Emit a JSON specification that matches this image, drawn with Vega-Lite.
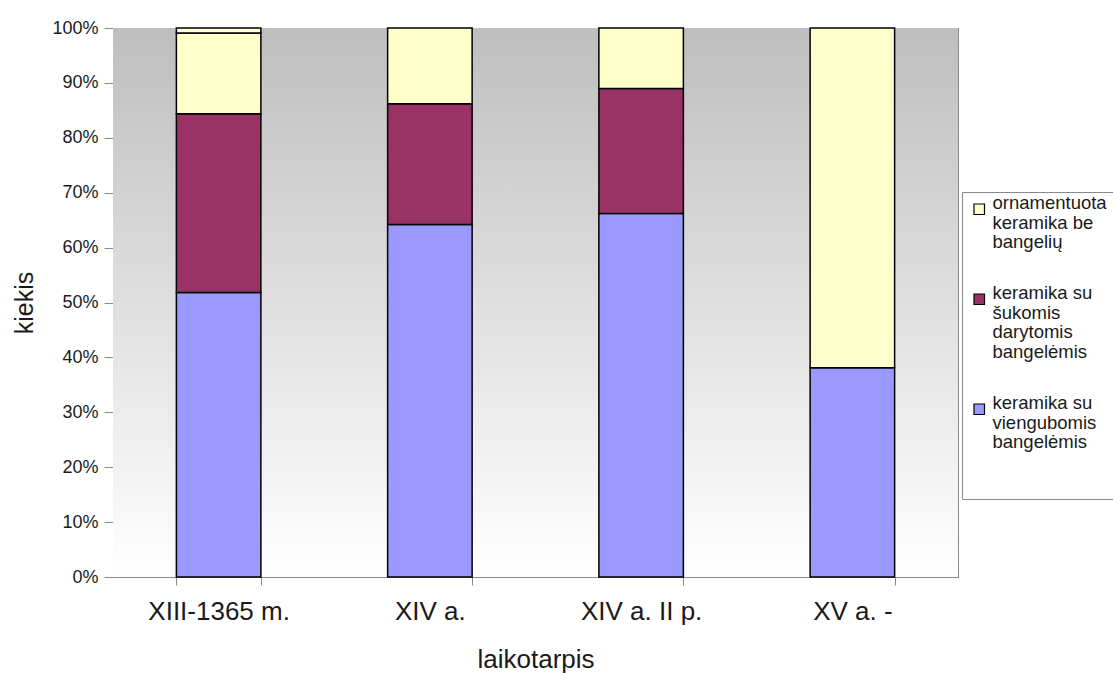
{
  "$schema": "https://vega.github.io/schema/vega-lite/v6.json",
  "autosize": "none",
  "width": 845,
  "height": 549,
  "padding": {"left": 113, "top": 28, "right": 155, "bottom": 98},
  "background": "white",
  "config": {
    "font": "Liberation Sans",
    "view": {"stroke": "#8a8a8a", "strokeWidth": 1},
    "style": {"guide-label": {"lineHeight": 19.5}}
  },
  "datasets": {
    "shares": [
      {"laikotarpis": "XIII-1365 m.", "grupe": "keramika su viengubomis bangelėmis", "eile": 1, "kiekis": 51.8},
      {"laikotarpis": "XIII-1365 m.", "grupe": "keramika su šukomis darytomis bangelėmis", "eile": 2, "kiekis": 32.6},
      {"laikotarpis": "XIII-1365 m.", "grupe": "ornamentuota keramika be bangelių", "eile": 3, "kiekis": 14.7},
      {"laikotarpis": "XIII-1365 m.", "grupe": "kita", "eile": 4, "kiekis": 0.9},
      {"laikotarpis": "XIV a.", "grupe": "keramika su viengubomis bangelėmis", "eile": 1, "kiekis": 64.2},
      {"laikotarpis": "XIV a.", "grupe": "keramika su šukomis darytomis bangelėmis", "eile": 2, "kiekis": 22.0},
      {"laikotarpis": "XIV a.", "grupe": "ornamentuota keramika be bangelių", "eile": 3, "kiekis": 13.8},
      {"laikotarpis": "XIV a. II p.", "grupe": "keramika su viengubomis bangelėmis", "eile": 1, "kiekis": 66.2},
      {"laikotarpis": "XIV a. II p.", "grupe": "keramika su šukomis darytomis bangelėmis", "eile": 2, "kiekis": 22.8},
      {"laikotarpis": "XIV a. II p.", "grupe": "ornamentuota keramika be bangelių", "eile": 3, "kiekis": 11.0},
      {"laikotarpis": "XV a. -", "grupe": "keramika su viengubomis bangelėmis", "eile": 1, "kiekis": 38.1},
      {"laikotarpis": "XV a. -", "grupe": "ornamentuota keramika be bangelių", "eile": 3, "kiekis": 61.9}
    ]
  },
  "layer": [
    {
      "data": {"values": [{}]},
      "mark": {
        "type": "rect",
        "color": {
          "gradient": "linear",
          "x1": 0, "y1": 0, "x2": 0, "y2": 1,
          "stops": [
            {"offset": 0, "color": "#bebebe"},
            {"offset": 0.5, "color": "#dfdfdf"},
            {"offset": 1, "color": "#ffffff"}
          ]
        }
      },
      "encoding": {}
    },
    {
      "data": {"name": "shares"},
      "mark": {"type": "bar", "stroke": "black", "strokeWidth": 1.5, "opacity": 1},
      "encoding": {
        "x": {
          "field": "laikotarpis",
          "type": "nominal",
          "sort": ["XIII-1365 m.", "XIV a.", "XIV a. II p.", "XV a. -"],
          "scale": {"paddingInner": 0.6, "paddingOuter": 0.3},
          "axis": {
            "title": "laikotarpis",
            "labelAngle": 0,
            "labelFontSize": 26,
            "labelColor": "#1a1a1a",
            "labelPadding": 13,
            "titleFontSize": 26,
            "titleFontWeight": "normal",
            "titleColor": "#1a1a1a",
            "titlePadding": 22,
            "tickBand": "extent",
            "tickSize": 8,
            "tickColor": "#8a8a8a",
            "domainColor": "#8a8a8a",
            "grid": false
          }
        },
        "y": {
          "field": "kiekis",
          "type": "quantitative",
          "stack": "normalize",
          "scale": {"domain": [0, 1]},
          "axis": {
            "title": "kiekis",
            "format": ".0%",
            "values": [0, 0.1, 0.2, 0.3, 0.4, 0.5, 0.6, 0.7, 0.8, 0.9, 1],
            "labelFontSize": 18,
            "labelColor": "#1a1a1a",
            "labelPadding": 6,
            "titleFontSize": 25,
            "titleFontWeight": "normal",
            "titleColor": "#1a1a1a",
            "titlePadding": 14,
            "tickSize": 9,
            "tickColor": "#8a8a8a",
            "domainColor": "#8a8a8a",
            "grid": true,
            "gridColor": "#8a8a8a",
            "gridWidth": 1
          }
        },
        "order": {"field": "eile", "type": "quantitative", "sort": "ascending"},
        "color": {
          "field": "grupe",
          "type": "nominal",
          "scale": {
            "domain": ["ornamentuota keramika be bangelių", "keramika su šukomis darytomis bangelėmis", "keramika su viengubomis bangelėmis", "kita"],
            "range": ["#ffffcc", "#993366", "#9999ff", "#ffffd8"]
          },
          "legend": {
            "title": " ",
            "titleOrient": "bottom",
            "titleFontSize": 19,
            "titlePadding": 20,
            "orient": "none",
            "legendX": 849,
            "legendY": 164,
            "values": ["ornamentuota keramika be bangelių", "keramika su šukomis darytomis bangelėmis", "keramika su viengubomis bangelėmis"],
            "labelExpr": "datum.label == 'ornamentuota keramika be bangelių' ? ['ornamentuota', 'keramika be', 'bangelių'] : datum.label == 'keramika su šukomis darytomis bangelėmis' ? ['keramika su', 'šukomis', 'darytomis', 'bangelėmis'] : ['keramika su', 'viengubomis', 'bangelėmis']",
            "labelFontSize": 18.5,
            "labelColor": "#1a1a1a",
            "labelLimit": 300,
            "labelBaseline": "alphabetic",
            "labelOffset": 4,
            "symbolType": "square",
            "symbolSize": 110,
            "symbolStrokeColor": "black",
            "symbolStrokeWidth": 1.2,
            "rowPadding": 32,
            "padding": 8,
            "strokeColor": "#8a8a8a",
            "fillColor": "white"
          }
        }
      }
    }
  ]
}
